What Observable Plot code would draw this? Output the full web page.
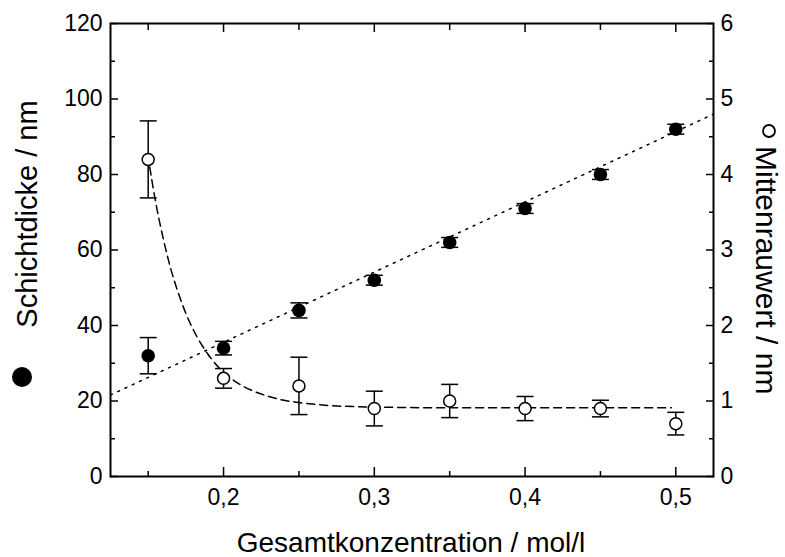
<!DOCTYPE html>
<html><head><meta charset="utf-8">
<script src="https://cdn.jsdelivr.net/npm/d3@7"></script>
<script src="https://cdn.jsdelivr.net/npm/@observablehq/plot@0.6"></script>
<style>body{margin:0;background:#fff} svg{display:block}</style>
</head><body><div id="chart"></div>
<script>
// ---- data ----
const conc = [0.15, 0.2, 0.25, 0.3, 0.35, 0.4, 0.45, 0.5];          // Gesamtkonzentration / mol/l
const thickness = [32, 34, 44, 52, 62, 71, 80, 92];                // Schichtdicke / nm (left axis)
const thicknessErr = [4.8, 1.8, 2.0, 1.3, 1.3, 1.3, 1.3, 1.3];
const roughness = [4.2, 1.3, 1.2, 0.9, 1.0, 0.9, 0.9, 0.7];        // Mittenrauwert / nm (right axis)
const roughnessErr = [0.51, 0.13, 0.38, 0.23, 0.22, 0.16, 0.11, 0.15];
// linear fit (dotted) of Schichtdicke
const fitX = [0.125, 0.525];
const fitY = [21.6, 96.0];
// decay fit (dashed) of Mittenrauwert
const curveX = [0.151, 0.155, 0.16, 0.165, 0.17, 0.175, 0.18, 0.19, 0.2, 0.21, 0.22, 0.23, 0.24, 0.25, 0.27, 0.3, 0.35, 0.4, 0.45, 0.497];
const curveY = [4.10, 3.63, 3.15, 2.75, 2.43, 2.16, 1.94, 1.61, 1.38, 1.23, 1.13, 1.06, 1.01, 0.98, 0.94, 0.92, 0.91, 0.91, 0.91, 0.91];
// ticks
const xMajor = [0.2, 0.3, 0.4, 0.5];
const xMinor = [0.15, 0.25, 0.35, 0.45];
const yLeftMajor = [0, 20, 40, 60, 80, 100, 120];
const yLeftMinor = [10, 30, 50, 70, 90, 110];
const yRightMajor = [0, 1, 2, 3, 4, 5, 6];
const yRightMinor = [0.5, 1.5, 2.5, 3.5, 4.5, 5.5];
// texts
const xTitle = "Gesamtkonzentration / mol/l";
const yLeftTitle = "Schichtdicke / nm";
const yRightTitle = "Mittenrauwert / nm";

// right axis is drawn on the left scale: 6 nm ↔ 120 nm
const R = 20;

const rows = conc.map((c, i) => ({
  c, t: thickness[i], te: thicknessErr[i], r: roughness[i] * R, re: roughnessErr[i] * R
}));
const fitRows = fitX.map((x, i) => ({x, y: fitY[i]}));
const curveRows = curveX.map((x, i) => ({x, y: curveY[i] * R}));

const cap = {draw(ctx) { ctx.moveTo(-8.5, 0); ctx.lineTo(8.5, 0); }};

const W = 785, H = 557;
const mL = 110, mR = 72, mT = 23, mB = 81;

const chart = Plot.plot({
  width: W, height: H,
  marginLeft: mL, marginRight: mR, marginTop: mT, marginBottom: mB,
  style: {fontFamily: "'Liberation Sans', Arial, sans-serif", fontSize: "23px", color: "black", background: "white"},
  x: {domain: [0.125, 0.525]},
  y: {domain: [0, 120]},
  marks: [
    // axes: labels
    Plot.axisX(xMajor, {anchor: "bottom", tickSize: 0, tickPadding: 12, fontSize: 23, label: null,
      tickFormat: d => String(d).replace(".", ",")}),
    Plot.axisY(yLeftMajor, {anchor: "left", tickSize: 0, tickPadding: 8, fontSize: 23, label: null}),
    Plot.axisY(yRightMajor.map(d => d * R), {anchor: "right", tickSize: 0, tickPadding: 7, fontSize: 23, label: null,
      tickFormat: d => String(d / R)}),
    // inward ticks
    Plot.axisX(xMajor, {anchor: "bottom", tickSize: -9, strokeWidth: 1.5, label: null, tickFormat: () => ""}),
    Plot.axisX(xMinor, {anchor: "bottom", tickSize: -5, strokeWidth: 1.5, label: null, tickFormat: () => ""}),
    Plot.axisX(xMajor, {anchor: "top", tickSize: -8, strokeWidth: 1.5, label: null, tickFormat: () => ""}),
    Plot.axisX(xMinor, {anchor: "top", tickSize: -6, strokeWidth: 1.5, label: null, tickFormat: () => ""}),
    Plot.axisY(yLeftMajor, {anchor: "left", tickSize: -8, strokeWidth: 1.5, label: null, tickFormat: () => ""}),
    Plot.axisY(yLeftMinor, {anchor: "left", tickSize: -5, strokeWidth: 1.5, label: null, tickFormat: () => ""}),
    Plot.axisY(yRightMajor.map(d => d * R), {anchor: "right", tickSize: -8, strokeWidth: 1.5, label: null, tickFormat: () => ""}),
    Plot.axisY(yRightMinor.map(d => d * R), {anchor: "right", tickSize: -5, strokeWidth: 1.5, label: null, tickFormat: () => ""}),
    // fits
    Plot.line(fitRows, {x: "x", y: "y", stroke: "black", strokeWidth: 1.5, strokeDasharray: "2,6"}),
    Plot.line(curveRows, {x: "x", y: "y", stroke: "black", strokeWidth: 1.5, strokeDasharray: "8,5", curve: "monotone-x"}),
    // error bars
    Plot.ruleX(rows, {x: "c", y1: d => d.t - d.te, y2: d => d.t + d.te, stroke: "black", strokeWidth: 1.5}),
    Plot.dot(rows, {x: "c", y: d => d.t - d.te, symbol: cap, fill: "none", stroke: "black", strokeWidth: 1.5}),
    Plot.dot(rows, {x: "c", y: d => d.t + d.te, symbol: cap, fill: "none", stroke: "black", strokeWidth: 1.5}),
    Plot.ruleX(rows, {x: "c", y1: d => d.r - d.re, y2: d => d.r + d.re, stroke: "black", strokeWidth: 1.5}),
    Plot.dot(rows, {x: "c", y: d => d.r - d.re, symbol: cap, fill: "none", stroke: "black", strokeWidth: 1.5}),
    Plot.dot(rows, {x: "c", y: d => d.r + d.re, symbol: cap, fill: "none", stroke: "black", strokeWidth: 1.5}),
    // points
    Plot.dot(rows, {x: "c", y: "t", r: 6.8, fill: "black", stroke: "none"}),
    Plot.dot(rows, {x: "c", y: "r", r: 6, fill: "white", stroke: "black", strokeWidth: 1.5}),
    Plot.frame({stroke: "black", strokeWidth: 2})
  ]
});
document.getElementById("chart").appendChild(chart);

// axis titles and legend symbols
const svg = d3.select(chart);
const font = "'Liberation Sans', Arial, sans-serif";
svg.append("text")
  .attr("x", 411).attr("y", 552).attr("text-anchor", "middle")
  .style("font-family", font).style("font-size", "28px").attr("fill", "black")
  .text(xTitle);
svg.append("text")
  .attr("transform", "translate(37,214) rotate(-90)").attr("text-anchor", "middle")
  .style("font-family", font).style("font-size", "29px").attr("fill", "black")
  .text(yLeftTitle);
svg.append("circle").attr("cx", 22).attr("cy", 377).attr("r", 10).attr("fill", "black");
svg.append("text")
  .attr("transform", "translate(756,146) rotate(90)").attr("text-anchor", "start")
  .style("font-family", font).style("font-size", "30px").attr("fill", "black")
  .text(yRightTitle);
svg.append("circle").attr("cx", 769).attr("cy", 131).attr("r", 6).attr("fill", "none").attr("stroke", "black").attr("stroke-width", 1.8);
</script>
</body></html>
